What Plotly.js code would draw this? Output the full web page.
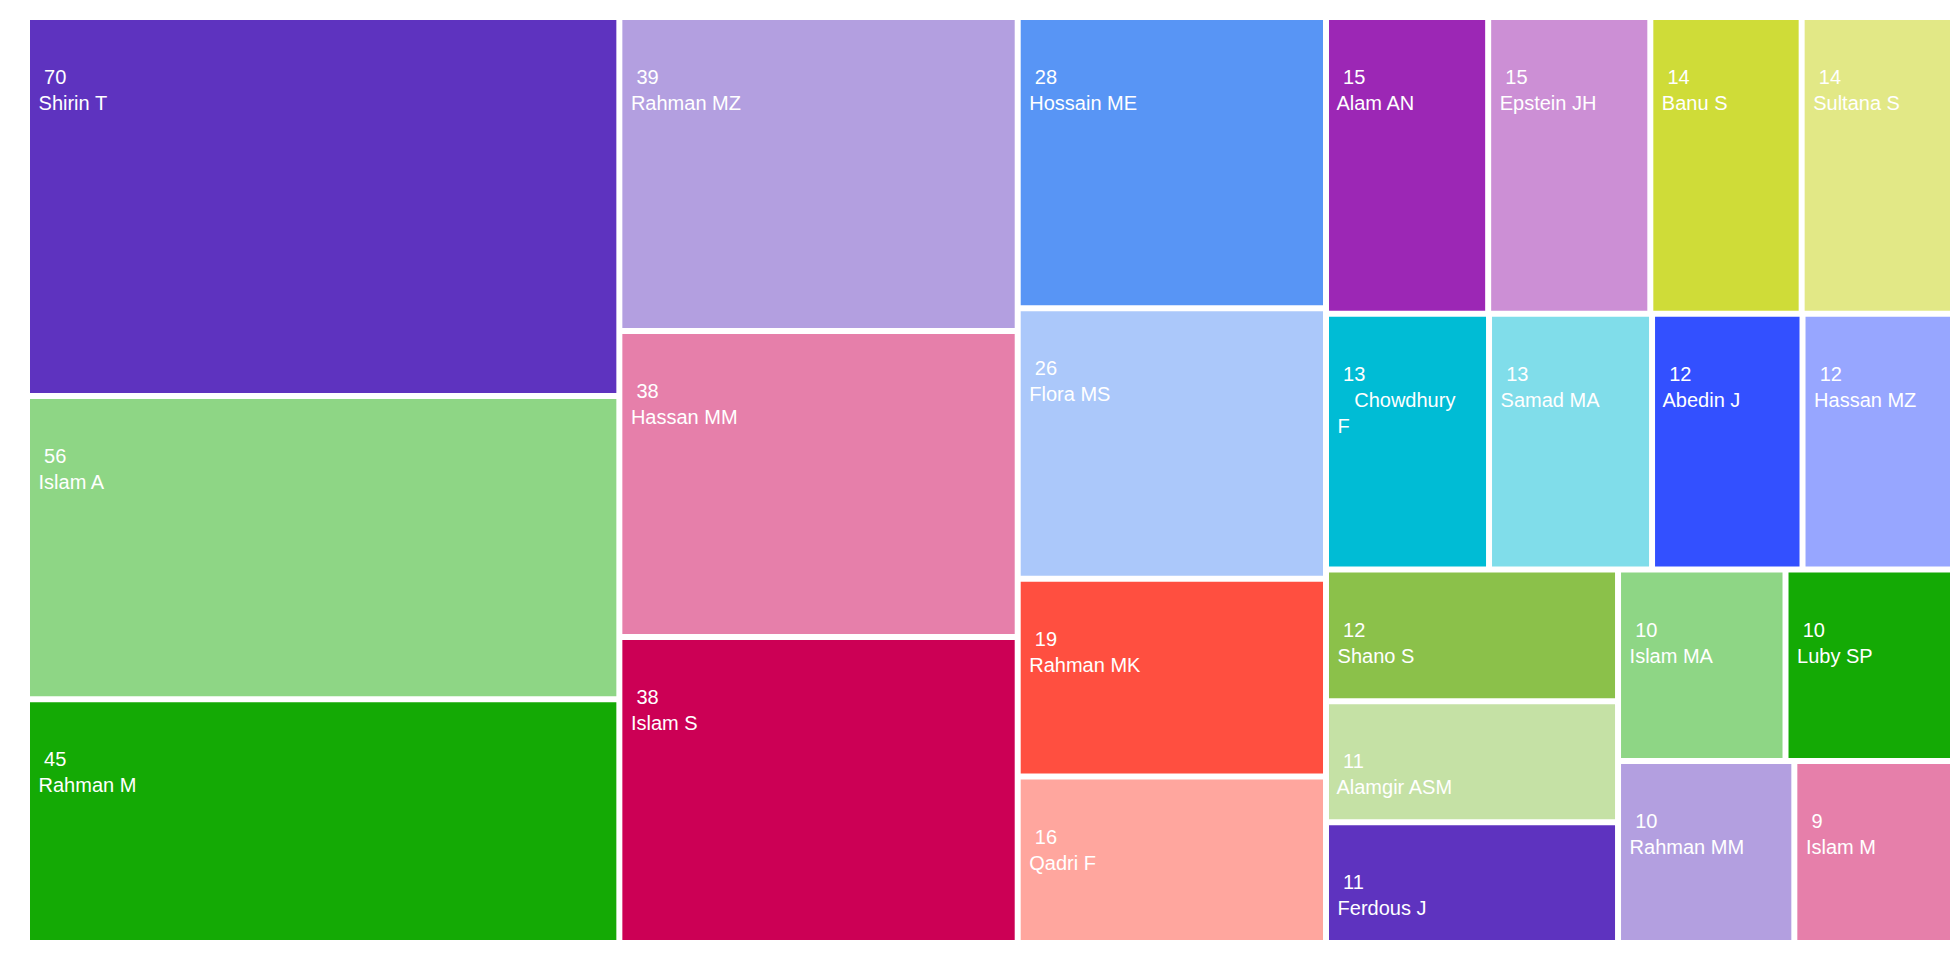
<!DOCTYPE html>
<html>
<head>
<meta charset="utf-8">
<script src="https://cdn.plot.ly/plotly-3.0.1.min.js"></script>
<style>html,body{margin:0;padding:0;background:#fff;}#chart{width:1960px;height:960px;}</style>
</head>
<body>
<div id="chart"></div>
<script>
// Leaf data
const labels = ["Shirin T","Islam A","Rahman M","Rahman MZ","Hassan MM","Islam S","Hossain ME","Flora MS","Rahman MK","Qadri F","Alam AN","Epstein JH","Banu S","Sultana S","Chowdhury F","Samad MA","Abedin J","Hassan MZ","Shano S","Alamgir ASM","Ferdous J","Islam MA","Luby SP","Rahman MM","Islam M"];
const values = [70,56,45,39,38,38,28,26,19,16,15,15,14,14,13,13,12,12,12,11,11,10,10,10,9];
const colors = ["#5e33bf","#8ed685","#14aa05","#b39fe0","#e67faa","#cc0055","#5895f5","#abc8fa","#ff4f40","#ffa69e","#9c27b5","#cc8fd5","#cfdc38","#e2e886","#00bcd5","#80ddea","#3350ff","#97a6ff","#8bc14a","#c5e1a5","#5e33bf","#8ed685","#14aa05","#b39fe0","#e67faa"];
// grouping of leaves into blocks (hierarchy)
const leafGroup = ["c1","c1","c1","c2","c2","c2","c3","c3","c3","c3","rA","rA","rA","rA","rB","rB","rB","rB","cC1","cC1","cC1","cC2a","cC2a","cC2b","cC2b"];
const groupIds     = ["root","c1","c2","c3","c4","rA","rB","rC","cC1","cC2","cC2a","cC2b"];
const groupParents = ["","root","root","root","root","c4","c4","c4","rC","rC","cC2","cC2"];

const FS = 20;
// first line: an empty spacer line that sets the top inset of the text block
const spacer = "<span style='font-size:39px'>\u00a0</span>";
const displayNames = labels.map(l => l === "Chowdhury F" ? "    Chowdhury<br> F" : " " + l);

const ids = groupIds.concat(labels);
const parents = groupParents.concat(leafGroup);
const vals = groupIds.map(() => 0).concat(values);
const cols = groupIds.map(() => "#ffffff").concat(colors);
const texts = groupIds.map(() => "").concat(values.map((v, i) =>
  spacer + "<br>  " + v + "<br>" + displayNames[i]));

Plotly.newPlot("chart", [{
  type: "treemap",
  ids: ids,
  labels: ids,
  parents: parents,
  values: vals,
  branchvalues: "remainder",
  text: texts,
  texttemplate: "%{text}",
  textposition: "top left",
  textfont: {family: "Liberation Sans, Arial, sans-serif", size: FS, color: "#ffffff"},
  marker: {colors: cols, line: {color: "#ffffff", width: 0}, pad: {t: 0, l: 0, r: 0, b: 0}},
  leaf: {opacity: 1},
  tiling: {packing: "slice-dice", pad: 6},
  pathbar: {visible: false},
  hoverinfo: "none",
  sort: false
}], {
  width: 1960, height: 960,
  margin: {l: 30, r: 10, t: 20, b: 20},
  paper_bgcolor: "#ffffff",
  showlegend: false
}, {displayModeBar: false});
</script>
</body>
</html>
